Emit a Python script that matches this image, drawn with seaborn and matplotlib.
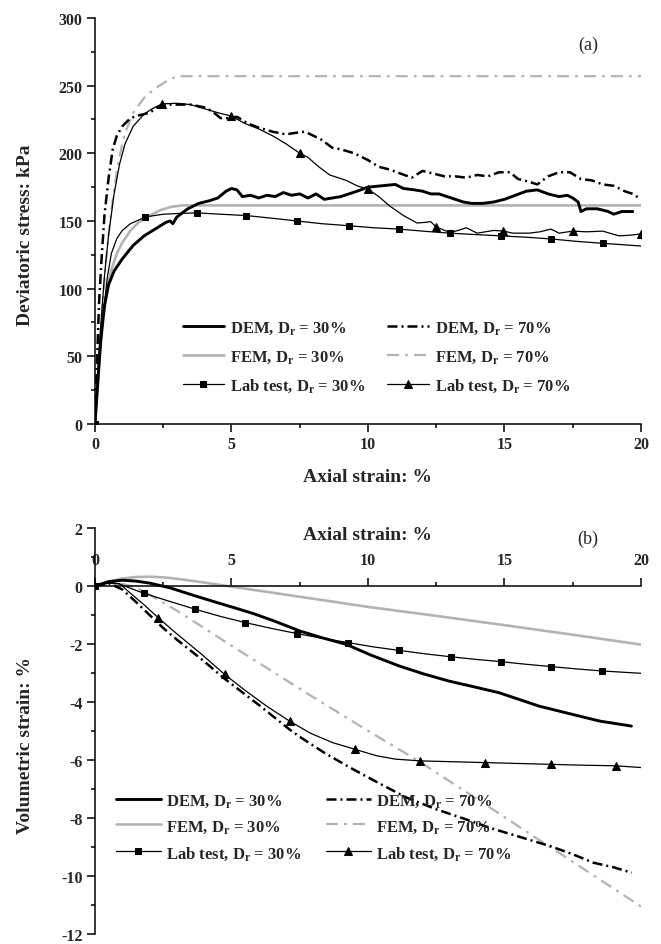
import numpy as np
import pandas as pd
import seaborn as sns
import matplotlib.pyplot as plt
from matplotlib.ticker import MultipleLocator

sns.set_theme(style="ticks")
plt.rcParams['font.family'] = ['Liberation Serif', 'DejaVu Serif']
plt.rcParams['font.weight'] = 'bold'
plt.rcParams['axes.labelweight'] = 'bold'
plt.rcParams['axes.unicode_minus'] = False
plt.rcParams['mathtext.fontset'] = 'custom'
plt.rcParams['mathtext.rm'] = 'Liberation Serif:bold'
plt.rcParams['mathtext.bf'] = 'Liberation Serif:bold'
plt.rcParams['mathtext.it'] = 'Liberation Serif:bold:italic'

# ---- (a) deviatoric stress vs axial strain ----
dem30_x = [0, 0.1, 0.2, 0.35, 0.5, 0.7, 1.0, 1.4, 1.8, 2.2, 2.6, 2.75, 2.85, 3.0, 3.4, 3.8, 4.2, 4.5, 4.8, 5.0,
           5.2, 5.4, 5.7, 6.0, 6.3, 6.6, 6.9, 7.2, 7.5, 7.8, 8.1, 8.4, 8.7, 9.0, 9.3, 9.6, 10.0, 10.5, 11.0, 11.3,
           11.7, 12.0, 12.3, 12.6, 12.9, 13.2, 13.5, 13.8, 14.2, 14.6, 15.0, 15.4, 15.8, 16.2, 16.6, 17.0, 17.3,
           17.5, 17.7, 17.8, 18.0, 18.4, 18.8, 19.0, 19.3, 19.7]
dem30_y = [0, 30, 60, 88, 103, 113, 122, 132, 139, 144, 149, 150, 148, 153, 159, 163, 165, 167, 172, 174,
           173, 168, 169, 167, 169, 168, 171, 169, 170, 167, 170, 166, 167, 168, 170, 172, 175, 176, 177, 174,
           173, 172, 170, 170, 168, 166, 164, 163, 163, 164, 166, 169, 172, 173, 170, 168, 169,
           167, 164, 157, 159, 159, 157, 155, 157, 157]

dem70_x = [0, 0.08, 0.15, 0.25, 0.35, 0.5, 0.65, 0.8, 1.0, 1.3, 1.6, 2.0, 2.3, 2.6, 3.0, 3.5, 4.0, 4.3, 4.6, 4.9,
           5.2, 5.6, 6.0, 6.5, 7.0, 7.3, 7.7, 8.0, 8.3, 8.7, 9.0, 9.5, 10.0, 10.4, 10.8, 11.2, 11.6, 12.0, 12.4,
           12.8, 13.2, 13.6, 14.0, 14.4, 14.8, 15.2, 15.5, 15.9, 16.2, 16.6, 17.0, 17.4, 17.8, 18.2, 18.6, 19.0,
           19.4, 19.7, 20.0]
dem70_y = [0, 50, 90, 125, 155, 182, 203, 213, 220, 226, 228, 230, 234, 236, 236, 236, 234, 231, 226, 226,
           227, 222, 219, 216, 214, 215, 216, 213, 210, 204, 203, 200, 195, 190, 188, 185, 182, 187, 185,
           183, 183, 182, 184, 183, 186, 186, 181, 179, 177, 183, 186, 186, 181, 180, 177, 176,
           172, 170, 166]

fem30_x = [0, 0.1, 0.2, 0.3, 0.45, 0.6, 0.8, 1.0, 1.3, 1.6, 2.0, 2.4, 2.8, 3.2, 20]
fem30_y = [0, 28, 55, 78, 100, 114, 126, 134, 143, 149, 154, 158, 160.5, 161.5, 161.5]

fem70_x = [0, 0.1, 0.2, 0.3, 0.4, 0.5, 0.6, 0.75, 0.9, 1.1, 1.4, 1.8, 2.2, 2.6, 3.0, 20]
fem70_y = [0, 35, 65, 95, 120, 140, 158, 180, 198, 215, 230, 241, 248, 253, 257, 257]

lab30_x = [0, 0.15, 0.3, 0.45, 0.6, 0.8, 1.0, 1.3, 1.85, 2.5, 3.0, 3.72, 4.6, 5.55, 6.5, 7.4, 8.3, 9.3, 10.2,
           11.15, 12.0, 13.0, 13.9, 14.87, 15.8, 16.72, 17.6, 18.6, 19.3, 20.0]
lab30_y = [0, 40, 80, 108, 126, 137, 143, 148, 153, 155, 155.5, 156, 155, 154, 152, 150, 148, 146.5, 145,
           144, 142.5, 141, 140, 139, 138, 136.7, 135, 133.5, 132.5, 131.5]
lab30_marks = [0, 1.85, 3.72, 5.55, 7.4, 9.3, 11.15, 13.0, 14.87, 16.72, 18.6]

lab70_x = [0, 0.1, 0.2, 0.35, 0.5, 0.7, 0.9, 1.1, 1.4, 1.8, 2.1, 2.45, 3.0, 3.5, 4.0, 4.5, 4.98, 5.5, 6.0, 6.5,
           7.0, 7.5, 7.8, 8.2, 8.6, 9.2, 9.6, 10.0, 10.4, 10.8, 11.3, 11.8, 12.1, 12.3, 12.5, 13.0, 13.3, 13.6,
           14.0, 14.3, 14.6, 14.95, 15.3, 15.9, 16.3, 16.7, 17.0, 17.5, 18.0, 18.6, 19.2, 19.6, 20.0]
lab70_y = [0, 35, 70, 110, 140, 170, 192, 207, 220, 229, 233, 236.5, 237, 236, 233, 230, 227.6, 222, 218, 213,
           207, 200, 197, 190, 184, 180, 176, 173.5, 168, 161, 154, 148.5, 149, 149.5, 145.5, 141.5, 143, 145,
           141, 142, 143, 142.6, 141, 141, 142, 144, 141, 142.5, 142, 142.5, 139, 139.5, 140.4]
lab70_marks = [2.45, 4.98, 7.5, 10.0, 12.5, 14.95, 17.5, 20.0]

# ---- (b) volumetric strain vs axial strain ----
vdem30_x = [0, 0.5, 1.0, 1.5, 2.0, 2.74, 3.67, 4.5, 5.0, 5.8, 6.6, 7.5, 8.3, 9.2, 10.1, 11.15, 12.0, 12.97,
            13.9, 14.8, 15.5, 16.26, 17.5, 18.5, 19.65]
vdem30_y = [0, 0.15, 0.2, 0.17, 0.1, -0.06, -0.34, -0.58, -0.72, -0.95, -1.22, -1.55, -1.78, -2.01, -2.38, -2.76,
            -3.02, -3.28, -3.48, -3.68, -3.9, -4.14, -4.43, -4.66, -4.83]

vdem70_x = [0, 0.5, 1.0, 1.5, 2.0, 2.5, 3.0, 4.0, 4.75, 6.0, 7.13, 7.5, 8.4, 9.34, 10.4, 11.42, 12.5, 13.6,
            14.5, 15.45, 16.67, 17.5, 18.25, 19.0, 19.66]
vdem70_y = [0, 0.1, -0.12, -0.55, -1.0, -1.45, -1.85, -2.6, -3.2, -4.1, -4.95, -5.2, -5.75, -6.26, -6.8, -7.3,
            -7.7, -8.05, -8.35, -8.62, -8.97, -9.25, -9.54, -9.7, -9.89]

vfem30_x = [0, 0.5, 1.0, 1.5, 2.0, 2.5, 3.0, 4.0, 5.0, 6.0, 7.5, 10.0, 12.5, 15.0, 17.5, 20.0]
vfem30_y = [0, 0.15, 0.26, 0.31, 0.32, 0.3, 0.25, 0.12, -0.02, -0.16, -0.37, -0.72, -1.03, -1.35, -1.68, -2.02]

vfem70_x = [0, 0.5, 1.0, 1.5, 2.0, 3.0, 4.0, 4.9, 6.0, 7.63, 9.7, 11.84, 14.0, 16.05, 18.0, 20.0]
vfem70_y = [0, 0.1, 0.08, -0.05, -0.3, -0.85, -1.45, -2.0, -2.65, -3.62, -4.82, -6.03, -7.35, -8.62, -9.82, -11.05]

vlab30_x = [0, 0.5, 0.9, 1.3, 1.79, 2.7, 3.67, 4.6, 5.5, 6.45, 7.4, 8.3, 9.26, 10.2, 11.14, 12.1, 13.03, 13.95,
            14.88, 15.8, 16.72, 17.65, 18.58, 20.0]
vlab30_y = [0, 0.1, 0.07, -0.08, -0.25, -0.52, -0.8, -1.05, -1.26, -1.46, -1.64, -1.8, -1.95, -2.1, -2.22, -2.34,
            -2.44, -2.53, -2.61, -2.7, -2.78, -2.86, -2.93, -3.01]
vlab30_marks = [0, 1.79, 3.67, 5.5, 7.4, 9.26, 11.14, 13.03, 14.88, 16.72, 18.58]

vlab70_x = [0, 0.5, 0.9, 1.3, 1.8, 2.31, 3.0, 3.9, 4.75, 5.5, 6.3, 7.13, 7.9, 8.7, 9.52, 10.3, 11.0, 11.9, 13.1,
            14.3, 15.5, 16.7, 17.9, 19.07, 20.0]
vlab70_y = [0, 0.12, 0.08, -0.25, -0.65, -1.09, -1.65, -2.35, -3.05, -3.6, -4.15, -4.66, -5.08, -5.4, -5.63,
            -5.85, -5.97, -6.03, -6.06, -6.09, -6.12, -6.15, -6.18, -6.2, -6.26]
vlab70_marks = [2.31, 4.75, 7.13, 9.52, 11.9, 14.3, 16.7, 19.07]

grey = '#b3b3b3'
dem70_ls = (0, (4, 1.6, 0.8, 1.6))
fem70_ls = (0, (5.4, 2.7, 1.3, 2.7))


def draw(ax, x, y, label, marks=None, **kw):
    df = pd.DataFrame({'x': x, 'y': y})
    if marks is not None:
        kw['markevery'] = [x.index(m) for m in marks]
    sns.lineplot(data=df, x='x', y='y', ax=ax, label=label, sort=False,
                 errorbar=None, legend=False, **kw)


def panel(ax, dem30, fem30, lab30, dem70, fem70, lab70):
    draw(ax, *fem30, 'FEM, D$_\\mathrm{r}$ = 30%', color=grey, lw=1.9)
    draw(ax, *fem70, 'FEM, D$_\\mathrm{r}$ = 70%', color=grey, lw=1.6, linestyle=fem70_ls)
    draw(ax, *lab30[:2], 'Lab test, D$_\\mathrm{r}$ = 30%', marks=lab30[2], color='black', lw=0.9,
         marker='s', markersize=5, markerfacecolor='black', markeredgecolor='black')
    draw(ax, *lab70[:2], 'Lab test, D$_\\mathrm{r}$ = 70%', marks=lab70[2], color='black', lw=0.9,
         marker='^', markersize=6, markerfacecolor='black', markeredgecolor='black')
    draw(ax, *dem70, 'DEM, D$_\\mathrm{r}$ = 70%', color='black', lw=1.8, linestyle=dem70_ls)
    draw(ax, *dem30, 'DEM, D$_\\mathrm{r}$ = 30%', color='black', lw=2.1)
    lines = {l.get_label(): l for l in ax.get_lines()}
    order = ['DEM, D$_\\mathrm{r}$ = 30%', 'FEM, D$_\\mathrm{r}$ = 30%', 'Lab test, D$_\\mathrm{r}$ = 30%',
             'DEM, D$_\\mathrm{r}$ = 70%', 'FEM, D$_\\mathrm{r}$ = 70%', 'Lab test, D$_\\mathrm{r}$ = 70%']
    return [lines[k] for k in order], order


fig = plt.figure(figsize=(6.61, 9.45), dpi=100)
ax1 = fig.add_axes([0.1437, 0.5503, 0.826, 0.4296])
ax2 = fig.add_axes([0.1437, 0.0106, 0.826, 0.4296])

h, l = panel(ax1, (dem30_x, dem30_y), (fem30_x, fem30_y), (lab30_x, lab30_y, lab30_marks),
             (dem70_x, dem70_y), (fem70_x, fem70_y), (lab70_x, lab70_y, lab70_marks))
ax1.legend(h, l, ncol=2, frameon=False, loc='center', bbox_to_anchor=(0.515, 0.165),
           prop={'size': 12, 'weight': 'bold'}, handlelength=2.5, columnspacing=1.3,
           labelspacing=0.7, handletextpad=0.35)

h, l = panel(ax2, (vdem30_x, vdem30_y), (vfem30_x, vfem30_y), (vlab30_x, vlab30_y, vlab30_marks),
             (vdem70_x, vdem70_y), (vfem70_x, vfem70_y), (vlab70_x, vlab70_y, vlab70_marks))
ax2.legend(h, l, ncol=2, frameon=False, loc='center', bbox_to_anchor=(0.40, 0.264),
           prop={'size': 12, 'weight': 'bold'}, handlelength=2.7, columnspacing=1.5,
           labelspacing=0.54, handletextpad=0.3)

# axes (a)
ax1.set_xlim(0, 20)
ax1.set_ylim(0, 300)
ax1.xaxis.set_major_locator(MultipleLocator(5))
ax1.xaxis.set_minor_locator(MultipleLocator(2.5))
ax1.yaxis.set_major_locator(MultipleLocator(50))
ax1.yaxis.set_minor_locator(MultipleLocator(25))
ax1.spines['top'].set_visible(False)
ax1.spines['right'].set_visible(False)
ax1.set_xlabel('Axial strain: %', fontsize=14, va='center')
ax1.xaxis.set_label_coords(0.5, -0.1305)
ax1.set_ylabel('Deviatoric stress: kPa', fontsize=14, va='center')
ax1.yaxis.set_label_coords(-0.128, 0.468)
ax1.text(0.903, 0.936, '(a)', transform=ax1.transAxes, ha='center', va='center',
         fontsize=13, fontweight='normal')

# axes (b)
ax2.set_xlim(0, 20)
ax2.set_ylim(-12, 2)
ax2.xaxis.set_major_locator(MultipleLocator(5))
ax2.xaxis.set_minor_locator(MultipleLocator(2.5))
ax2.yaxis.set_major_locator(MultipleLocator(2))
ax2.yaxis.set_minor_locator(MultipleLocator(1))
ax2.spines['top'].set_position(('data', 0))
ax2.spines['bottom'].set_visible(False)
ax2.spines['right'].set_visible(False)
ax2.xaxis.set_ticks_position('top')
ax2.xaxis.set_label_position('top')
ax2.set_xlabel('Axial strain: %', fontsize=14, va='center')
ax2.xaxis.set_label_coords(0.5, 0.985)
ax2.set_ylabel('Volumetric strain: %', fontsize=14, va='center')
ax2.yaxis.set_label_coords(-0.128, 0.466)
ax2.text(0.903, 0.975, '(b)', transform=ax2.transAxes, ha='center', va='center',
         fontsize=13, fontweight='normal')

for ax in (ax1, ax2):
    for s in ax.spines.values():
        s.set_linewidth(1.1)
        s.set_color('black')
    ax.tick_params(which='major', length=6, width=1.1, labelsize=11.5, pad=3, color='black')
    ax.tick_params(which='minor', length=3, width=1.1, color='black')
    ax.tick_params(which='both', direction='out')
    ax.grid(False)
ax2.tick_params(axis='x', which='major', pad=7)

fig.savefig('out.png', dpi=100, facecolor='white')
